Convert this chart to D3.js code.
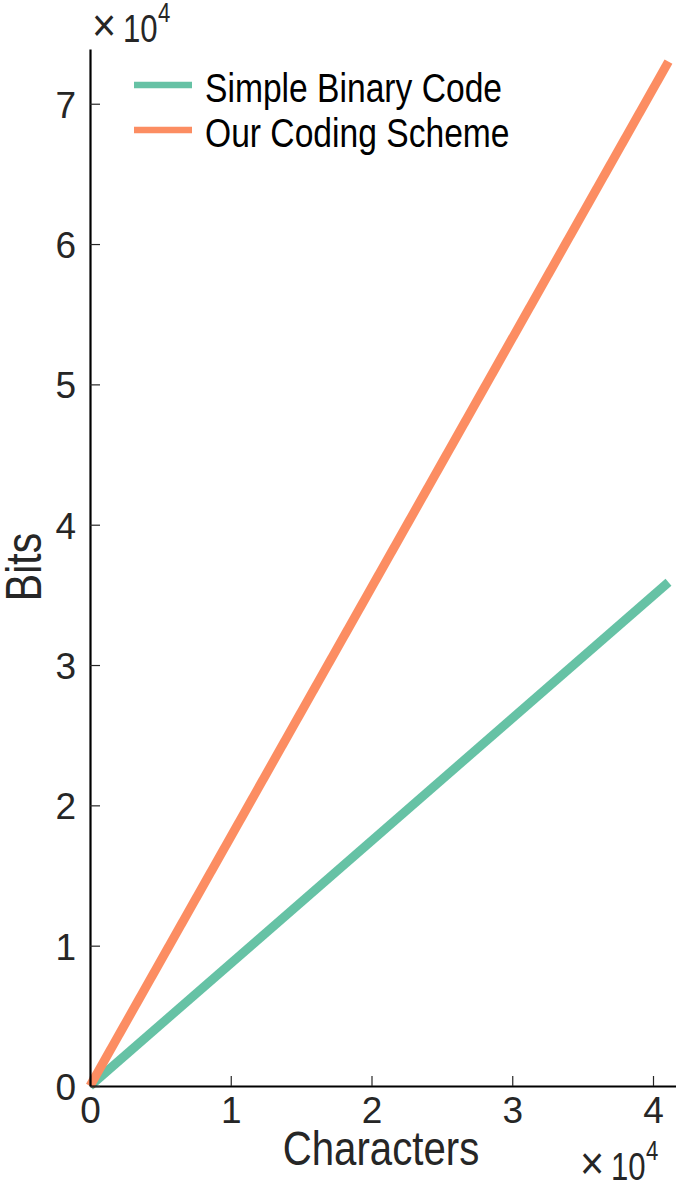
<!DOCTYPE html>
<html>
<head>
<meta charset="utf-8">
<script src="https://cdn.jsdelivr.net/npm/d3@7"></script>
<style>
  body { margin: 0; background: #fff; }
  svg { display: block; }
  .tick text { font-family: "Liberation Sans", Arial, sans-serif; font-size: 37px; fill: #262626; }
</style>
</head>
<body>
<svg id="chart" width="676" height="1186"></svg>
<script>
// data
const characters = [0, 41100];
const simpleBinary = [0, 35900];
const ourScheme = [0, 73000];
const seriesNames = ['Simple Binary Code', 'Our Coding Scheme'];
const seriesColors = ['#66c2a5', '#fc8d62'];
const xTicks = [0, 10000, 20000, 30000, 40000];
const yTicks = [0, 10000, 20000, 30000, 40000, 50000, 60000, 70000];

const svg = d3.select('#chart');
const plotLeft = 90, plotBottom = 1086, plotTop = 49, plotRight = 676;
const narrow = 0.82; // the figure's font is a condensed Helvetica

const x = d3.scaleLinear().domain([0, 41634]).range([plotLeft, plotRight]);
const y = d3.scaleLinear().domain([0, 73900]).range([plotBottom, plotTop]);

const series = [simpleBinary, ourScheme].map((vals, i) => ({
  name: seriesNames[i],
  color: seriesColors[i],
  points: characters.map((c, j) => ({ c: c, b: vals[j] }))
}));

const line = d3.line()
  .x(d => x(d.c))
  .y(d => y(d.b));

svg.selectAll('path.series')
  .data(series)
  .enter().append('path')
  .attr('class', 'series')
  .attr('fill', 'none')
  .attr('stroke', d => d.color)
  .attr('stroke-width', 9)
  .attr('stroke-linecap', 'butt')
  .attr('d', d => line(d.points));

// axes, ticks pointing inwards
const xAxis = svg.append('g')
  .attr('transform', `translate(0,${plotBottom})`)
  .call(d3.axisBottom(x).tickValues(xTicks).tickFormat(d => d / 10000)
    .tickSizeInner(-10).tickSizeOuter(0).tickPadding(11));

const yAxis = svg.append('g')
  .attr('transform', `translate(${plotLeft},0)`)
  .call(d3.axisLeft(y).tickValues(yTicks).tickFormat(d => d / 10000)
    .tickSizeInner(-10).tickSizeOuter(0).tickPadding(14));

[xAxis, yAxis].forEach(g => {
  g.attr('font-family', null).attr('font-size', null);
  g.select('.domain').attr('stroke', '#000').attr('stroke-width', 2.2);
  g.selectAll('.tick line').attr('stroke', '#262626').attr('stroke-width', 1.2);
});
yAxis.selectAll('.tick text').attr('dy', '0.36em');

// condensed text helper
function label(transform, size, fill, anchor, str, sx) {
  return svg.append('text')
    .attr('transform', transform + ` scale(${sx || narrow},1)`)
    .attr('text-anchor', anchor)
    .style('font-family', '"Liberation Sans", Arial, sans-serif')
    .style('font-size', size + 'px')
    .style('fill', fill)
    .text(str);
}

// axis labels
label('translate(381,1165)', 49, '#262626', 'middle', 'Characters');
label('translate(41,567) rotate(-90)', 50, '#262626', 'middle', 'Bits');

// exponent labels
function exponent(x0, base) {
  label(`translate(${x0},${base - 1})`, 46, '#262626', 'start', '\u00d7', 0.9);
  label(`translate(${x0 + 31},${base})`, 38, '#262626', 'start', '10');
  label(`translate(${x0 + 66},${base - 20})`, 27, '#262626', 'start', '4');
}
exponent(92, 42);
exponent(580, 1180);

// legend
series.forEach((s, i) => {
  const cy = 85 + i * 45;
  svg.append('line')
    .attr('x1', 134).attr('x2', 192)
    .attr('y1', cy).attr('y2', cy)
    .attr('stroke', s.color)
    .attr('stroke-width', 6.5);
  label(`translate(205,${cy + 17})`, 41, '#000', 'start', s.name);
});
</script>
</body>
</html>
